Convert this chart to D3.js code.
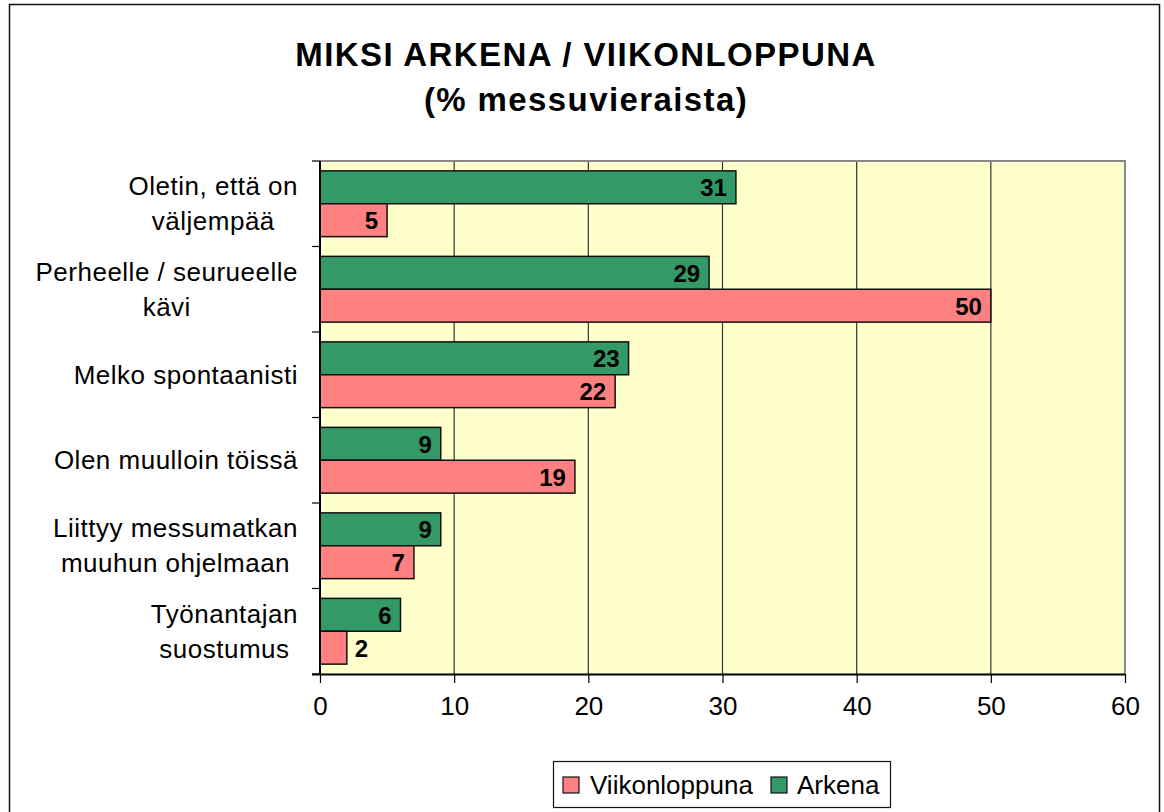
<!DOCTYPE html>
<html>
<head>
<meta charset="utf-8">
<script src="https://cdn.jsdelivr.net/npm/d3@7"></script>
<style>
  html, body { margin: 0; padding: 0; background: #fff; }
  svg { display: block; font-family: "Liberation Sans", Arial, sans-serif; }
</style>
</head>
<body>
<svg id="chart" width="1164" height="812"></svg>
<script>
const titleLines = ["MIKSI ARKENA / VIIKONLOPPUNA", "(% messuvieraista)"];
const categories = [
  ["Oletin, että on", "väljempää"],
  ["Perheelle / seurueelle", "kävi"],
  ["Melko spontaanisti"],
  ["Olen muulloin töissä"],
  ["Liittyy messumatkan", "muuhun ohjelmaan"],
  ["Työnantajan", "suostumus"]
];
const seriesNames = ["Arkena", "Viikonloppuna"];
const arkena = [31, 29, 23, 9, 9, 6];
const viikonloppuna = [5, 50, 22, 19, 7, 2];
const xTicks = [0, 10, 20, 30, 40, 50, 60];
const legendOrder = ["Viikonloppuna", "Arkena"];
const colors = { "Arkena": "#339966", "Viikonloppuna": "#FF8080" };

const values = { "Arkena": arkena, "Viikonloppuna": viikonloppuna };

const svg = d3.select("#chart");
const m = { left: 320, top: 161, right: 1125, bottom: 674 };

// outer border
svg.append("rect").attr("x", 9.5).attr("y", 4.5).attr("width", 1150).attr("height", 830)
  .attr("fill", "#fff").attr("stroke", "#111").attr("stroke-width", 1.5);

// title
svg.append("g").selectAll("text").data(titleLines).join("text")
  .attr("x", 586).attr("y", (d, i) => 66 + i * 45)
  .attr("text-anchor", "middle").attr("font-weight", "bold")
  .attr("font-size", 33).attr("letter-spacing", "1.4px")
  .text(d => d);

const x = d3.scaleLinear().domain([0, 60]).range([m.left, m.right]);
const idx = d3.range(categories.length);
const y = d3.scaleBand().domain(idx).range([m.top, m.bottom]).padding(0);
const ySub = d3.scaleBand().domain(seriesNames).range([0, y.bandwidth()]).paddingInner(0).paddingOuter(0.3);

// plot background
svg.append("rect").attr("x", m.left).attr("y", m.top)
  .attr("width", m.right - m.left).attr("height", m.bottom - m.top)
  .attr("fill", "#FFFFCC");

// gridlines
svg.append("g").selectAll("line").data(xTicks.filter(t => t > 0 && t < 60)).join("line")
  .attr("x1", d => x(d)).attr("x2", d => x(d))
  .attr("y1", m.top).attr("y2", m.bottom)
  .attr("stroke", "#333").attr("stroke-width", 1.2);

// plot border top/right
svg.append("path")
  .attr("d", `M${m.left},${m.top}H${m.right}V${m.bottom}`)
  .attr("fill", "none").attr("stroke", "#888").attr("stroke-width", 2);

// bars
const rows = [];
idx.forEach(i => seriesNames.forEach(s => rows.push({ i, s, v: values[s][i] })));

const barG = svg.append("g");
barG.selectAll("rect").data(rows).join("rect")
  .attr("x", x(0))
  .attr("y", d => y(d.i) + ySub(d.s))
  .attr("width", d => x(d.v) - x(0))
  .attr("height", ySub.bandwidth())
  .attr("fill", d => colors[d.s])
  .attr("stroke", "#111").attr("stroke-width", 1.5);

// data labels
barG.selectAll("text").data(rows).join("text")
  .attr("x", d => (x(d.v) - x(0)) > 40 ? x(d.v) - 9 : x(d.v) + 8)
  .attr("y", d => y(d.i) + ySub(d.s) + ySub.bandwidth() / 2 + 9)
  .attr("text-anchor", d => (x(d.v) - x(0)) > 40 ? "end" : "start")
  .attr("font-weight", "bold").attr("font-size", 24)
  .text(d => d.v);

// x axis
const xAxis = svg.append("g").attr("transform", `translate(0,${m.bottom})`)
  .call(d3.axisBottom(x).tickValues(xTicks).tickSize(9).tickPadding(14).tickFormat(d3.format("d")));
xAxis.select(".domain").attr("stroke", "#000").attr("stroke-width", 2)
  .attr("d", `M${m.left - 8},0.5H${m.right}`);
xAxis.selectAll(".tick line").attr("stroke", "#000").attr("stroke-width", 1.2);
xAxis.selectAll(".tick text").attr("font-size", 26).attr("fill", "#000")
  .attr("font-family", "'Liberation Sans', Arial, sans-serif");

// y axis line + ticks at band boundaries
svg.append("line").attr("x1", m.left).attr("x2", m.left).attr("y1", m.top).attr("y2", m.bottom)
  .attr("stroke", "#000").attr("stroke-width", 2);
const bounds = idx.map(i => y(i)).concat([m.bottom]);
svg.append("g").selectAll("line").data(bounds).join("line")
  .attr("x1", m.left - 8).attr("x2", m.left).attr("y1", d => d).attr("y2", d => d)
  .attr("stroke", "#000").attr("stroke-width", 1.2);

// category labels (block right-aligned, lines centered)
const labelRight = 298;
const lineH = 35;
categories.forEach((lines, i) => {
  const g = svg.append("g");
  const cy = y(i) + y.bandwidth() / 2;
  const texts = g.selectAll("text").data(lines).join("text")
    .attr("font-size", 26).attr("letter-spacing", "0.5px")
    .attr("text-anchor", "middle")
    .attr("y", (d, j) => cy + 9 + (j - (lines.length - 1) / 2) * lineH)
    .text(d => d);
  let maxW = 0;
  texts.each(function () { maxW = Math.max(maxW, this.getComputedTextLength()); });
  texts.attr("x", labelRight - maxW / 2);
});

// legend
const lg = svg.append("g");
lg.append("rect").attr("x", 553.5).attr("y", 761.5).attr("width", 337).attr("height", 46)
  .attr("fill", "#fff").attr("stroke", "#111").attr("stroke-width", 1.2);
const legendPos = [{ sx: 563, tx: 590 }, { sx: 771, tx: 797 }];
legendOrder.forEach((s, k) => {
  lg.append("rect").attr("x", legendPos[k].sx).attr("y", 777).attr("width", 16).attr("height", 16)
    .attr("fill", colors[s]).attr("stroke", "#111").attr("stroke-width", 1.2);
  lg.append("text").attr("x", legendPos[k].tx).attr("y", 794)
    .attr("font-size", 26).text(s);
});
</script>
</body>
</html>
